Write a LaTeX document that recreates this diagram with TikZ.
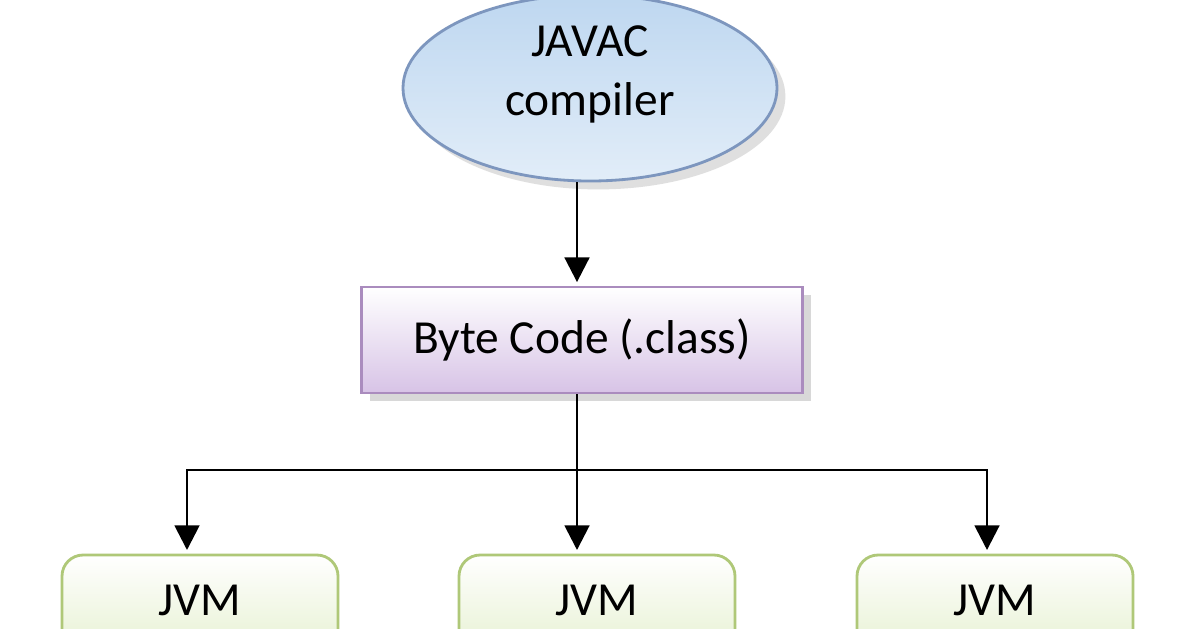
\documentclass[tikz,border=0pt]{standalone}
\usepackage{fontspec}
\setmainfont{Carlito}
\usetikzlibrary{shapes.geometric, shadows, arrows.meta}

\definecolor{ellborder}{RGB}{125,150,190}
\definecolor{ellfill}{RGB}{190,215,240}
\definecolor{boxborder}{RGB}{170,140,190}
\definecolor{boxfill}{RGB}{215,195,230}
\definecolor{jvmborder}{RGB}{175,200,120}
\definecolor{jvmfill}{RGB}{225,238,200}

\tikzset{
  compiler/.style={ellipse, draw=ellborder, thick, top color=ellfill, bottom color=ellfill!45,
    minimum width=3.74cm, minimum height=1.86cm, align=center, font=\fontsize{13.5}{17}\selectfont,
    inner sep=0pt, text depth=0.35cm, drop shadow={opacity=0.25}},
  bytecode/.style={rectangle, draw=boxborder, thick, top color=white, bottom color=boxfill,
    minimum width=4.41cm, minimum height=1.06cm, font=\fontsize{13.5}{16}\selectfont,
    drop shadow={opacity=0.3}},
  jvm/.style={rectangle, rounded corners=6pt, draw=jvmborder, thick, top color=white, bottom color=jvmfill,
    minimum width=2.76cm, minimum height=1.2cm, text depth=0.3cm, font=\fontsize{13.5}{16}\selectfont},
  flow/.style={-{Triangle[length=7pt,width=7pt]}, thick}
}

\begin{document}
\begin{tikzpicture}
  \useasboundingbox[clip] (0,0) rectangle (11.96,6.28);
  \fill[white] (0,0) rectangle (11.96,6.28);

  \node[compiler] (javac) at (5.90,5.40) {JAVAC\\compiler};
  \node[bytecode] (byte) at (5.82,2.88) {Byte Code (.class)};

  \node[jvm] (jvmA) at (2.00,0.13) {JVM};
  \node[jvm] (jvmB) at (5.97,0.13) {JVM};
  \node[jvm] (jvmC) at (9.95,0.13) {JVM};

  \coordinate (split) at (5.77,1.58);
  \coordinate (endA) at (1.87,0.78);
  \coordinate (endB) at (5.77,0.78);
  \coordinate (endC) at (9.87,0.78);

  \draw[flow] (javac.south -| split) -- ([yshift=1pt]byte.north -| split);
  \draw[thick] (byte.south -| split) -- (split);
  \draw[flow] (split) -- (endB);
  \draw[flow] (split) -| (endA);
  \draw[flow] (split) -| (endC);
\end{tikzpicture}
\end{document}
